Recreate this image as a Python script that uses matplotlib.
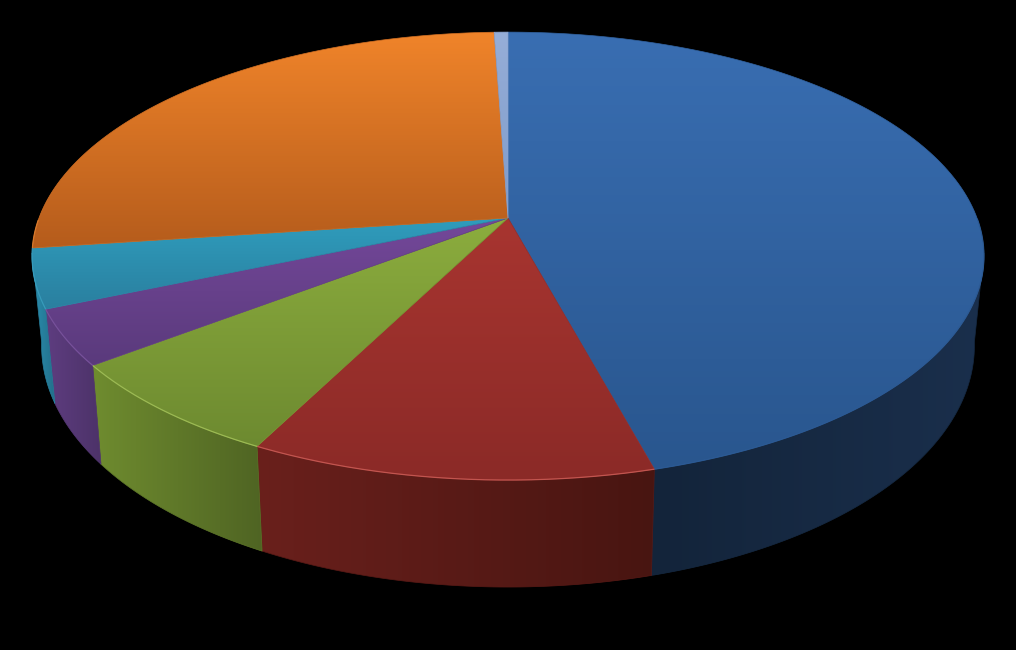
"""3D-looking pie on black: one circle pushed through a perspective map, walls below, faces on top."""
import matplotlib
matplotlib.use("Agg")
import matplotlib.pyplot as plt
import numpy as np
from matplotlib.patches import Polygon

# percent of the circle, clockwise from 12 o'clock
SLICES = ["blue", "red", "green", "purple", "teal", "orange", "pale"]
SHARES = [45.8, 11.7, 7.1, 4.0, 4.25, 26.6, 0.55]

# face gradient per slice, top of slice -> bottom of slice
FACE_TOP = ["#396eb2", "#a83530", "#8cad3e", "#74489a", "#2f9dbd", "#f0842a", "#96aed8"]
FACE_BOT = ["#29568e", "#8b2a27", "#6d8a30", "#5a3a7c", "#2a7f9f", "#b55c1c", "#7f9bc9"]
# wall gradient per slice, screen left -> screen right (orange and pale walls are out of sight)
WALL_LEFT = ["#13243a", "#6a201c", "#6f8c2f", "#5e3d80", "#2a8fb0", None, None]
WALL_RIGHT = ["#1a2f4c", "#481511", "#4f6423", "#4c3268", "#236f8a", None, None]
RIM = ["#2c5a94", "#d0605a", "#a6c45c", "#7c56a0", "#3aa0c0", "#e08030", "#96aed8"]

W, H = 1016, 650
CX, CY = 508.0, 218.0       # pie apex on screen
A, B, K = 469.0, 217.5, 0.17  # radius x / radius y / perspective strength
SHRINK = 0.98               # bottom circle is a bit narrower
DEPTH0, DEPTH1 = 86.0, 21.0  # wall height, grows towards the viewer
WALL_FROM, WALL_TO = np.radians(99), np.radians(261)  # where the outline turns, walls show in between


def _top(theta):
    u, v = np.sin(theta), -np.cos(theta)
    w = 1 - K * v
    return CX + A * u / w, CY + B * v / w


def _bottom(theta):
    x, y = _top(theta)
    v = -np.cos(theta)
    return CX + SHRINK * (x - CX), y + DEPTH0 + DEPTH1 * v


def _gradient(ax, xy, c0, c1, vertical, zorder):
    """Fill polygon xy with a linear two-colour gradient, clipped image + thin matching edge."""
    c0, c1 = np.array(matplotlib.colors.to_rgb(c0)), np.array(matplotlib.colors.to_rgb(c1))
    t = np.linspace(0, 1, 256)[:, None]
    img = (c0 + (c1 - c0) * t)[:, None, :] if vertical else (c0 + (c1 - c0) * t)[None, :, :]
    x0, y0 = xy.min(axis=0)
    x1, y1 = xy.max(axis=0)
    patch = Polygon(xy, closed=True, fc="none", ec=tuple((c0 + c1) / 2), lw=0.5, zorder=zorder + 0.1)
    ax.add_patch(patch)
    im = ax.imshow(img, extent=(x0, x1, y1, y0), aspect="auto", zorder=zorder, interpolation="bilinear")
    im.set_clip_path(patch)


fig = plt.figure(figsize=(W / 100, H / 100), dpi=100, facecolor="black")
ax = fig.add_axes([0, 0, 1, 1])
ax.set_axis_off()

edges = np.radians(np.concatenate([[0], np.cumsum(SHARES)]) * 3.6)
edges = edges * 2 * np.pi / edges[-1]

# walls first, faces painted over them
for i, name in enumerate(SLICES):
    lo, hi = max(edges[i], WALL_FROM), min(edges[i + 1], WALL_TO)
    if lo >= hi or WALL_LEFT[i] is None:
        continue
    th = np.linspace(lo, hi, 120)
    x, y = _top(th)
    xb, yb = _bottom(th)
    wall = np.column_stack([np.r_[x, xb[::-1]], np.r_[y, yb[::-1]]])
    _gradient(ax, wall, WALL_LEFT[i], WALL_RIGHT[i], False, 1 + i * 0.2)

for i, name in enumerate(SLICES):
    th = np.linspace(edges[i], edges[i + 1], 160)
    x, y = _top(th)
    face = np.column_stack([np.r_[CX, x], np.r_[CY, y]])
    _gradient(ax, face, FACE_TOP[i], FACE_BOT[i], True, 4 + i * 0.2)
    # bright rim where the face meets the wall
    m = np.cos(th) < 0.0
    if m.any():
        ax.plot(x[m], y[m], color=RIM[i], lw=0.9, alpha=0.8, zorder=6, solid_capstyle="butt")

ax.set_xlim(0, W)
ax.set_ylim(H, 0)
fig.savefig("out.png", dpi=100, facecolor="black")
